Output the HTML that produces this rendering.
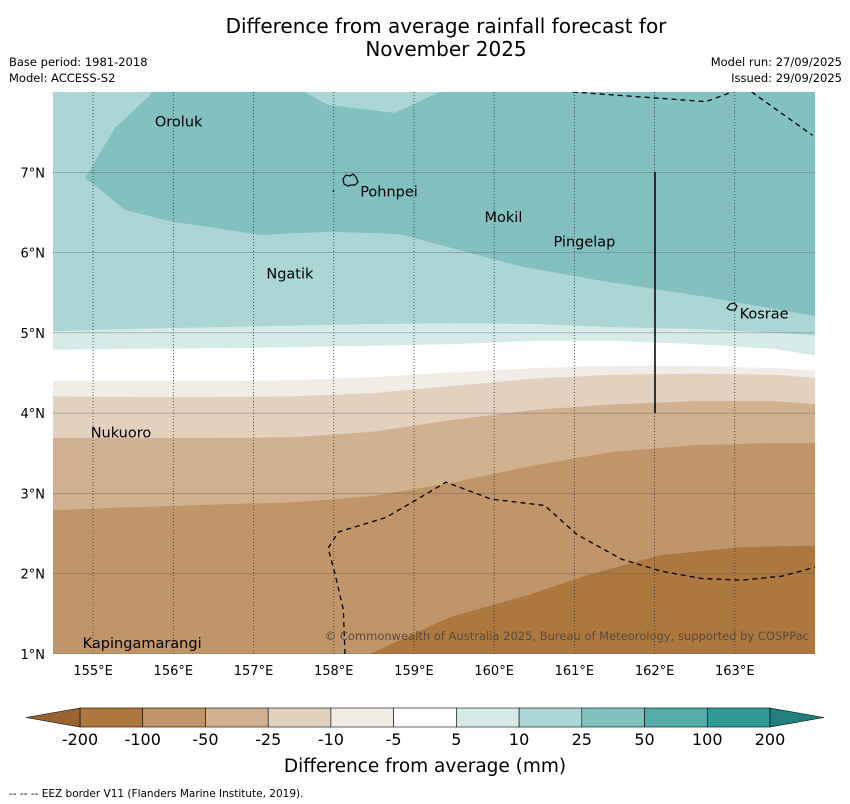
<!DOCTYPE html>
<html><head><meta charset="utf-8"><style>
body{margin:0;background:#fff;width:850px;height:804px;overflow:hidden;font-family:"DejaVu Sans","Liberation Sans",sans-serif}
svg{position:absolute;left:0;top:0;font-family:"DejaVu Sans","Liberation Sans",sans-serif}
</style></head><body>
<svg id="chart" width="850" height="804">
<text x="446" y="33" text-anchor="middle" font-size="20">Difference from average rainfall forecast for</text>
<text x="446" y="56" text-anchor="middle" font-size="20">November 2025</text>
<text x="9" y="66" font-size="11.5">Base period: 1981-2018</text>
<text x="9" y="82" font-size="11.5">Model: ACCESS-S2</text>
<text x="842" y="66" font-size="11.5" text-anchor="end">Model run: 27/09/2025</text>
<text x="842" y="82" font-size="11.5" text-anchor="end">Issued: 29/09/2025</text>
<g id="map"></g>
<g id="cbar"></g>
<text x="425" y="772" text-anchor="middle" font-size="18.5">Difference from average (mm)</text>
<text x="9" y="797" font-size="10.5">--  --  -- EEZ border V11 (Flanders Marine Institute, 2019).</text>
</svg>
<script>
const levels=["-200","-100","-50","-25","-10","-5","5","10","25","50","100","200"];
const binColors=["#ad7840","#c0956a","#d2b190","#e3d1c0","#f1ece6","#ffffff","#d6eae8","#acd6d6","#83c1c0","#55acab","#319997"];
const lowExtendColor="#9a6331", highExtendColor="#237f7d";
const sampleLons=[154.5,155.5,156.5,157.5,158.5,159.5,160.5,161.5,162.5,163.5,164];
const bound25to10=[5.02,5.05,5.07,5.09,5.11,5.12,5.11,5.07,5.05,5.00,4.97];
const bound10to5=[4.79,4.80,4.81,4.82,4.84,4.86,4.90,4.90,4.86,4.80,4.72];
const boundWhite=[4.40,4.40,4.40,4.41,4.45,4.51,4.56,4.59,4.59,4.56,4.53];
const boundM10=[4.21,4.20,4.20,4.21,4.25,4.34,4.43,4.48,4.49,4.48,4.44];
const boundM25=[3.69,3.69,3.69,3.70,3.77,3.92,4.04,4.11,4.15,4.15,4.11];
const boundM50=[2.79,2.83,2.86,2.89,2.97,3.14,3.35,3.52,3.60,3.63,3.63];
const wetLons=[154.90,155.27,155.71,155.73,157.64,157.93,158.76,159.32,164,164,162.56,161.32,160.32,159.57,158.82,157.95,157.08,155.96,155.40];
const wetLats=[6.93,7.55,7.96,8,8,7.84,7.74,8,8,5.21,5.46,5.65,5.83,6.03,6.23,6.26,6.22,6.39,6.53];
const dryLons=[158.45,159.45,160.44,161.19,162.06,163.06,164,164];
const dryLats=[1,1.46,1.74,1.99,2.23,2.33,2.35,1];
const eezALons=[158.14,158.12,158.02,157.93,158.06,158.65,159.08,159.40,159.96,160.63,161.03,161.59,162.09,162.59,163.09,163.59,164];
const eezALats=[1,1.55,1.98,2.32,2.52,2.70,2.95,3.14,2.93,2.85,2.49,2.18,2.03,1.94,1.92,1.97,2.08];
const eezBLons=[160.98,162.64,163.02];
const eezBLats=[8,7.88,8.02];
const eezCLons=[163.21,163.97];
const eezCLats=[8,7.46];
const lonTicks=[155,156,157,158,159,160,161,162,163];
const latTicks=[1,2,3,4,5,6,7];
const islandNames=["Oroluk","Pohnpei","Mokil","Pingelap","Ngatik","Kosrae","Nukuoro","Kapingamarangi"];
const islandLons=[155.77,158.33,159.88,160.74,157.16,163.06,154.97,154.87];
const islandLats=[7.63,6.76,6.44,6.14,5.74,5.24,3.76,1.14];

const NS="http://www.w3.org/2000/svg";
const X0=53,X1=815,Y0=92,Y1=654,LON0=154.5,LON1=164,LAT0=1,LAT1=8;
const xs=l=>X0+(l-LON0)/(LON1-LON0)*(X1-X0);
const ys=l=>Y1-(l-LAT0)/(LAT1-LAT0)*(Y1-Y0);
function mk(tag,attrs,parent){const e=document.createElementNS(NS,tag);for(const k in attrs)e.setAttribute(k,attrs[k]);parent.appendChild(e);return e;}
const map=document.getElementById('map');
const cp=mk('clipPath',{id:'mc'},map);mk('rect',{x:X0,y:Y0,width:X1-X0,height:Y1-Y0},cp);
const g=mk('g',{'clip-path':'url(#mc)'},map);
let r=mk('rect',{x:X0,y:Y0,width:X1-X0,height:Y1-Y0,fill:binColors[1]},g);


const bands=[[boundM50,binColors[2],'band-minus-50'],[boundM25,binColors[3],'band-minus-25'],[boundM10,binColors[4],'band-minus-10'],[boundWhite,binColors[5],'band-neutral'],[bound10to5,binColors[6],'band-plus-5'],[bound25to10,binColors[7],'band-plus-10']];
bands.forEach(([b,c,n])=>{
 let d=`M${X0},${Y0}`;sampleLons.forEach((l,i)=>{d+=` L${xs(l)},${ys(b[i])}`});d+=` L${X1},${Y0} Z`;
 const p=mk('path',{d:d,fill:c},g);
 
 
});
function poly(lons,lats,fill,name){
 const pts=lons.map((l,i)=>xs(l)+','+ys(lats[i])).join(' ');
 const p=mk('polygon',{points:pts,fill:fill},g);
 
 
}
poly(wetLons,wetLats,binColors[8],'band-plus-25');
poly(dryLons,dryLats,binColors[0],'band-minus-200');
lonTicks.forEach(l=>{const e=mk('line',{x1:xs(l),x2:xs(l),y1:Y0,y2:Y1,stroke:'#333','stroke-width':0.8,'stroke-dasharray':'1,2'},g);
 
 });
latTicks.forEach(l=>{const e=mk('line',{x1:X0,x2:X1,y1:ys(l),y2:ys(l),stroke:'#555','stroke-width':0.5,opacity:0.7},g);
 
 });
[[eezALons,eezALats],[eezBLons,eezBLats],[eezCLons,eezCLats]].forEach(([lo,la])=>{
 const e=mk('polyline',{points:lo.map((l,i)=>xs(l)+','+ys(la[i])).join(' '),fill:'none',stroke:'#000','stroke-width':1.3,'stroke-dasharray':'5,4'},g);
 
 
});
let vl=mk('line',{x1:655,x2:655,y1:172,y2:413,stroke:'#000','stroke-width':1.5},g);


let pk=mk('path',{d:'M343,179 l3,-4 l4,1 l3,-2 l3,3 l2,5 l-3,3 l-4,0 l-3,1 l-4,-2 z M334,190 l-1,2',fill:'none',stroke:'#000','stroke-width':1.2},g);


let ko=mk('path',{d:'M727,308 l3,-4 l4,-1 l3,3 l-2,4 l-5,0 z',fill:'none',stroke:'#000','stroke-width':1.2},g);


islandNames.forEach((n,i)=>{
 const t=mk('text',{x:xs(islandLons[i]),y:ys(islandLats[i])+5,'font-size':14.5},map);t.textContent=n;
 
 
});
let cr=mk('text',{x:809,y:640,'font-size':11.5,'text-anchor':'end',fill:'#5a4a3a'},map);
cr.textContent='© Commonwealth of Australia 2025, Bureau of Meteorology, supported by COSPPac';


lonTicks.forEach(l=>{const t=mk('text',{x:xs(l),y:675,'font-size':13,'text-anchor':'middle'},map);t.textContent=l+'°E';
 
 });
latTicks.forEach(l=>{const t=mk('text',{x:45,y:ys(l)+5,'font-size':13,'text-anchor':'end'},map);t.textContent=l+'°N';
 
 });
const cb=document.getElementById('cbar');
const CX0=80,CX1=770,CY=708,CH=19,sw=(CX1-CX0)/binColors.length;
binColors.forEach((c,i)=>{const e=mk('rect',{x:CX0+i*sw,y:CY,width:sw,height:CH,fill:c,stroke:'#000','stroke-width':0.6},cb);
 
 });
let tl=mk('polygon',{points:`${CX0},${CY} 26,${CY+CH/2} ${CX0},${CY+CH}`,fill:lowExtendColor,stroke:'#000','stroke-width':0.6},cb);


let tr=mk('polygon',{points:`${CX1},${CY} 824,${CY+CH/2} ${CX1},${CY+CH}`,fill:highExtendColor,stroke:'#000','stroke-width':0.6},cb);


levels.forEach((lv,i)=>{const t=mk('text',{x:CX0+i*sw,y:745,'font-size':16,'text-anchor':'middle'},cb);t.textContent=lv;
 
 });
</script>
</body></html>
